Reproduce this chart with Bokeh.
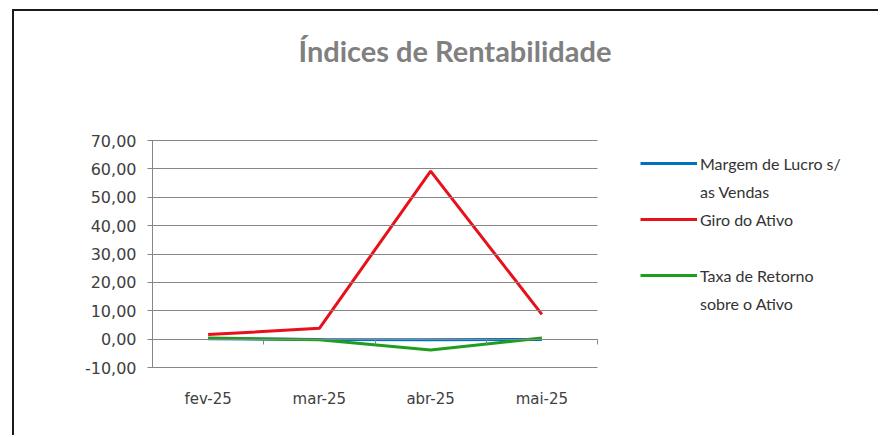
from bokeh.plotting import figure
from bokeh.models import (Range1d, FixedTicker, LinearAxis, Legend, LegendItem, Title)
from bokeh.embed import file_html
from bokeh.resources import INLINE

# ---- data ----
months = ["fev-25", "mar-25", "abr-25", "mai-25"]
margem_lucro = [0.1, -0.1, -0.2, -0.1]
giro_ativo = [1.6, 3.8, 59.2, 8.7]
taxa_retorno = [0.4, -0.2, -3.8, 0.4]
y_ticks = [-10, 0, 10, 20, 30, 40, 50, 60, 70]
legend_rows = [("Margem de Lucro s/", 0), ("as Vendas", None), ("Giro do Ativo", 1),
               (" ", None), ("Taxa de Retorno", 2), ("sobre o Ativo", None)]
title_text = "Índices de Rentabilidade"

n = len(months)
x_pos = [i + 0.5 for i in range(n)]

# layout (pixels)
W, H = 866, 426
LEFT, TOP, BOTTOM = 138, 129, 70
PLOT_W = 445                       # width of the plotting area proper
FRAME_W = W - LEFT                 # frame runs to the right edge (legend lives inside it)
x_end = n * FRAME_W / PLOT_W

p = figure(width=W, height=H, output_backend="svg", toolbar_location=None,
           x_range=Range1d(0, x_end), y_range=Range1d(-10, 70),
           min_border_left=LEFT, min_border_right=0, min_border_top=TOP,
           min_border_bottom=BOTTOM, x_axis_type=None, y_axis_type=None)
p.margin = (9, 0, 0, 12)
p.styles = {"border-left": "2px solid #1a1a1a", "border-top": "2px solid #1a1a1a"}
p.outline_line_color = None
p.background_fill_color = "white"
p.border_fill_color = "white"
p.xgrid.visible = False
p.ygrid.visible = False

# spacer (closest to the frame) and title
spacer = Title(text=" ", text_font_size="1px", standoff=65)
p.add_layout(spacer, "above")
t = Title(text=title_text, align="left", offset=146, standoff=10,
          text_font="Lato", text_font_size="29px", text_font_style="bold",
          text_color="#808080")
p.add_layout(t, "above")

# y axis; its inward ticks act as the horizontal gridlines
yax = LinearAxis(ticker=FixedTicker(ticks=y_ticks))
yax.major_label_overrides = {v: f"{v:.2f}".replace(".", ",") for v in y_ticks}
yax.axis_line_color = "#868686"
yax.major_tick_line_color = "#868686"
yax.major_tick_out = 5
yax.major_tick_in = PLOT_W
yax.minor_tick_line_color = None
yax.major_label_standoff = 11
yax.major_label_text_font = "DejaVu Sans"
yax.major_label_text_font_size = "16px"
yax.major_label_text_color = "#404040"
p.add_layout(yax, "left")

# x axis labels (category centres)
xax = LinearAxis(ticker=FixedTicker(ticks=x_pos))
xax.major_label_overrides = {x: m for x, m in zip(x_pos, months)}
xax.axis_line_color = None
xax.major_tick_line_color = None
xax.major_tick_out = 0
xax.major_tick_in = 0
xax.minor_tick_line_color = None
xax.major_label_standoff = 22
xax.major_label_text_font = "DejaVu Sans"
xax.major_label_text_font_size = "15px"
xax.major_label_text_color = "#404040"
p.add_layout(xax, "below")

# x axis line at zero with boundary ticks
xax0 = LinearAxis(ticker=FixedTicker(ticks=list(range(n + 1))), fixed_location=0,
                  bounds=(0, n))
xax0.axis_line_color = "#868686"
xax0.major_tick_line_color = "#868686"
xax0.major_tick_out = 5
xax0.major_tick_in = 0
xax0.minor_tick_line_color = None
xax0.major_label_text_font_size = "0px"
xax0.major_label_text_alpha = 0
p.add_layout(xax0, "below")

colors = ["#0070C0", "#E8101A", "#1E9E1E"]
r1 = p.line(x_pos, margem_lucro, line_color=colors[0], line_width=3)
r2 = p.line(x_pos, giro_ativo, line_color=colors[1], line_width=3)
r3 = p.line(x_pos, taxa_retorno, line_color=colors[2], line_width=3)
rends = [r1, r2, r3]

items = [LegendItem(label=lbl, renderers=([rends[i]] if i is not None else []))
         for lbl, i in legend_rows]
legend = Legend(items=items, location=(PLOT_W + 43, 54))
legend.border_line_color = None
legend.background_fill_alpha = 0
legend.padding = 0
legend.margin = 0
legend.glyph_width = 57
legend.glyph_height = 20
legend.label_height = 20
legend.label_standoff = 3
legend.spacing = 8
legend.label_text_font = "Lato"
legend.label_text_font_size = "16px"
legend.label_text_color = "#333333"
p.add_layout(legend)

open("out.html", "w").write(file_html(p, INLINE))
